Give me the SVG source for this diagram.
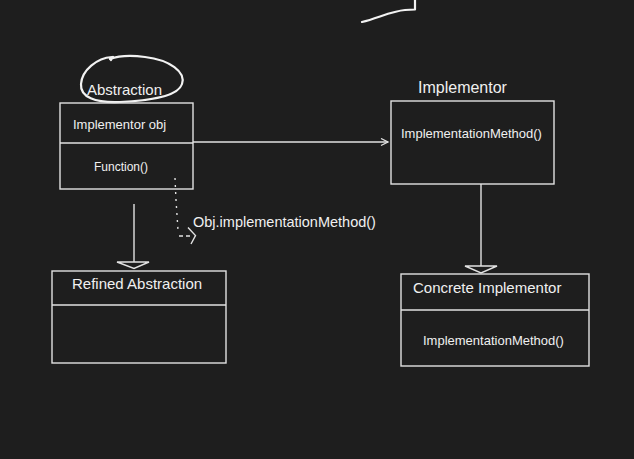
<svg xmlns="http://www.w3.org/2000/svg" width="634" height="459" viewBox="0 0 634 459">
  <style>
    .box { fill: none; stroke: #e2e2e2; stroke-width: 1.4; }
    .line { fill: none; stroke: #e2e2e2; stroke-width: 1.4; }
    .ink { fill: none; stroke: #f2f2f2; stroke-width: 2.2; stroke-linecap: round; stroke-linejoin: round; }
    text { font-family: "Liberation Sans", Arial, sans-serif; fill: #f0f0f0; }
    .title { font-size: 15px; }
    .member { font-size: 12.5px; }
  </style>
  <defs>
    <marker id="open" markerWidth="10" markerHeight="10" refX="8" refY="4" orient="auto" markerUnits="userSpaceOnUse">
      <path d="M1,0.5 L8,4 L1,7.5" fill="none" stroke="#e2e2e2" stroke-width="1.3"/>
    </marker>
  </defs>

  <rect width="634" height="459" fill="#1e1e1e"/>

  <!-- pen stroke at top edge -->
  <path class="ink" d="M362,22 C378,18 392,11 405,10 L415,9.5 L415,0" stroke-width="3"/>

  <g id="connectors">
    <!-- association Abstraction -> Implementor -->
    <line class="line" x1="193" y1="142" x2="388" y2="142" marker-end="url(#open)"/>
    <!-- generalization Refined Abstraction -> Abstraction -->
    <line class="line" x1="134" y1="204" x2="134" y2="262"/>
    <path class="line" d="M117,262 L149,262 L134,268.5 Z"/>
    <!-- generalization Concrete Implementor -> Implementor -->
    <line class="line" x1="481" y1="184" x2="481" y2="266"/>
    <path class="line" d="M465,266 L497,266 L481,273 Z"/>
    <!-- call note -->
    <path class="line" d="M175,178 L176,200 L178,230" stroke-dasharray="2 5"/>
    <path class="line" d="M179,236 L190,236" stroke-dasharray="4 3"/>
    <path class="line" d="M188,227.5 L195.5,235.5 L191,244"/>
    <text x="193" y="227" style="font-size:14.5px">Obj.implementationMethod()</text>
  </g>

  <g id="abstraction">
    <path class="ink" d="M112,57 C97,58 82,70 81,84 C80,97 95,103 120,102 C150,101 178,96 182,84 C186,72 170,60 145,57 C130,55 118,56 110,59 M113,57 L111,60"/>
    <text class="title" x="87" y="95">Abstraction</text>
    <rect class="box" x="60" y="103" width="133" height="86"/>
    <line class="line" x1="60" y1="143" x2="193" y2="143"/>
    <text class="member" x="73" y="129" style="font-size:13px">Implementor obj</text>
    <text class="member" x="94" y="171" style="font-size:12px">Function()</text>
  </g>

  <g id="implementor">
    <text x="418" y="93" style="font-size:16px">Implementor</text>
    <rect class="box" x="391" y="101" width="163" height="83"/>
    <text x="401" y="138" style="font-size:13px">ImplementationMethod()</text>
  </g>

  <g id="refined-abstraction">
    <rect class="box" x="52" y="271" width="174" height="92"/>
    <line class="line" x1="52" y1="305" x2="226" y2="305"/>
    <text class="title" x="72" y="289">Refined Abstraction</text>
  </g>

  <g id="concrete-implementor">
    <rect class="box" x="401" y="274" width="188" height="92"/>
    <line class="line" x1="401" y1="310" x2="589" y2="310"/>
    <text class="title" x="413" y="293">Concrete Implementor</text>
    <text x="423" y="345" style="font-size:13px">ImplementationMethod()</text>
  </g>
</svg>
